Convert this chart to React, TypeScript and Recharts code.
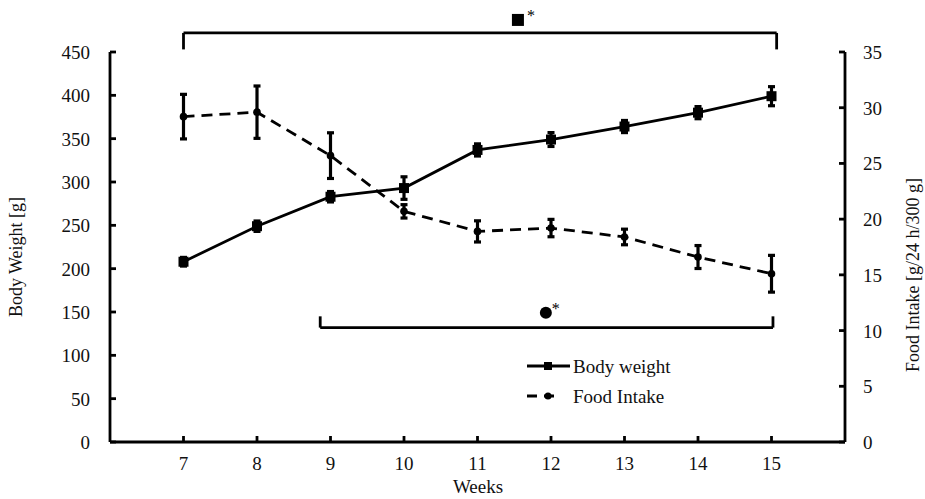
import React from 'react';
import {
  ComposedChart,
  Line,
  XAxis,
  YAxis,
  ErrorBar,
  ReferenceLine,
  ReferenceDot,
  Legend,
} from 'recharts';

const weeks = [7, 8, 9, 10, 11, 12, 13, 14, 15];
const bodyWeight = [208, 249, 283, 293, 337, 349, 364, 380, 399];
const bodyWeightErr = [5, 6, 6, 13, 7, 8, 7, 7, 11];
const foodIntake = [29.2, 29.6, 25.7, 20.7, 18.9, 19.2, 18.4, 16.6, 15.1];
const foodIntakeErr = [2.0, 2.35, 2.05, 0.6, 0.95, 0.78, 0.7, 1.03, 1.65];

const weekTicks = [7, 8, 9, 10, 11, 12, 13, 14, 15];
const weightTicks = [0, 50, 100, 150, 200, 250, 300, 350, 400, 450];
const intakeTicks = [0, 5, 10, 15, 20, 25, 30, 35];

// significance brackets (x in weeks, y in body-weight units)
const topBracket = { x1: 7, x2: 15.07, y: 472, yTick: 453 };
const bottomBracket = { x1: 8.86, x2: 15.02, y: 132, yTick: 145 };
const squareMark = { x: 11.55, y: 487 };
const circleMark = { x: 11.93, y: 149 };

const data = weeks.map((w, i) => ({
  week: w,
  bw: bodyWeight[i],
  bwErr: bodyWeightErr[i],
  fi: foodIntake[i],
  fiErr: foodIntakeErr[i],
}));

const FONT = '"Liberation Serif", "Times New Roman", serif';
const TICK_SIZE = 19;
const SW = 2.8;

const LeftTick = (props: any) => {
  const { x, y, payload } = props;
  return (
    <g>
      <line x1={x} y1={y} x2={x + 6} y2={y} stroke="#000" strokeWidth={SW} />
      <text x={x - 20} y={y + 7} textAnchor="end" fontFamily={FONT} fontSize={TICK_SIZE} fill="#111">
        {payload.value}
      </text>
    </g>
  );
};

const RightTick = (props: any) => {
  const { x, y, payload } = props;
  return (
    <g>
      <line x1={x} y1={y} x2={x - 6} y2={y} stroke="#000" strokeWidth={SW} />
      <text x={x + 18} y={y + 7} textAnchor="start" fontFamily={FONT} fontSize={TICK_SIZE} fill="#111">
        {payload.value}
      </text>
    </g>
  );
};

const BottomTick = (props: any) => {
  const { x, y, payload } = props;
  return (
    <g>
      <line x1={x} y1={y} x2={x} y2={y - 6} stroke="#000" strokeWidth={SW} />
      <text x={x} y={y + 28} textAnchor="middle" fontFamily={FONT} fontSize={TICK_SIZE} fill="#111">
        {payload.value}
      </text>
    </g>
  );
};

const SquareDot = (props: any) => {
  const { cx, cy, index } = props;
  if (cx == null || cy == null) return <g key={`sq-${index}`} />;
  return <rect key={`sq-${index}`} x={cx - 5} y={cy - 5} width={10} height={10} fill="#000" />;
};

const CircleDot = (props: any) => {
  const { cx, cy, index } = props;
  if (cx == null || cy == null) return <g key={`ci-${index}`} />;
  return <circle key={`ci-${index}`} cx={cx} cy={cy} r={3.8} fill="#000" />;
};

const SquareMarker = (props: any) => {
  const { cx, cy } = props;
  return (
    <g>
      <rect x={cx - 6} y={cy - 6} width={12} height={12} fill="#000" />
      <text x={cx + 9} y={cy + 1} fontFamily={FONT} fontSize={16} fill="#000">*</text>
    </g>
  );
};

const CircleMarker = (props: any) => {
  const { cx, cy } = props;
  return (
    <g>
      <circle cx={cx} cy={cy} r={6} fill="#000" />
      <text x={cx + 6} y={cy + 1} fontFamily={FONT} fontSize={16} fill="#000">*</text>
    </g>
  );
};

const LegendContent = () => (
  <svg width={180} height={60} style={{ display: 'block' }}>
    <line x1={0} y1={11} x2={43} y2={11} stroke="#000" strokeWidth={SW} />
    <rect x={17} y={7} width={8} height={8} fill="#000" />
    <text x={46} y={18} fontFamily={FONT} fontSize={19} fill="#111">Body weight</text>
    <line x1={0} y1={41} x2={31} y2={41} stroke="#000" strokeWidth={SW} strokeDasharray="10 7" />
    <circle cx={21} cy={41} r={3.5} fill="#000" />
    <text x={46} y={48} fontFamily={FONT} fontSize={19} fill="#111">Food Intake</text>
  </svg>
);

export default function App() {
  return (
    <div style={{ position: 'absolute', left: 0, top: 0, width: 925, height: 499, background: '#fff' }}>
      <ComposedChart
        width={925}
        height={499}
        data={data}
        margin={{ top: 52, right: 0, bottom: 17, left: 0 }}
        style={{ fontFamily: FONT }}
      >
        <XAxis
          dataKey="week"
          type="number"
          domain={[6, 16]}
          ticks={weekTicks}
          height={40}
          axisLine={{ stroke: '#000', strokeWidth: SW }}
          tickLine={false}
          tickSize={0}
          tickMargin={0}
          tick={<BottomTick />}
          interval={0}
          label={{
            content: () => (
              <text x={478} y={493} textAnchor="middle" fontFamily={FONT} fontSize={19} fill="#111">
                Weeks
              </text>
            ),
          }}
        />
        <YAxis
          yAxisId="left"
          orientation="left"
          domain={[0, 450]}
          ticks={weightTicks}
          width={110}
          axisLine={{ stroke: '#000', strokeWidth: SW }}
          tickLine={false}
          tickSize={0}
          tickMargin={0}
          tick={<LeftTick />}
          interval={0}
          label={{
            content: () => (
              <text
                x={22}
                y={257}
                transform="rotate(-90 22 257)"
                textAnchor="middle"
                fontFamily={FONT}
                fontSize={18}
                fill="#111"
              >
                Body Weight [g]
              </text>
            ),
          }}
        />
        <YAxis
          yAxisId="right"
          orientation="right"
          domain={[0, 35]}
          ticks={intakeTicks}
          width={80}
          axisLine={{ stroke: '#000', strokeWidth: SW }}
          tickLine={false}
          tickSize={0}
          tickMargin={0}
          tick={<RightTick />}
          interval={0}
          label={{
            content: () => (
              <text
                x={919}
                y={275}
                transform="rotate(-90 919 275)"
                textAnchor="middle"
                fontFamily={FONT}
                fontSize={18}
                fill="#111"
              >
                Food Intake  [g/24 h/300 g]
              </text>
            ),
          }}
        />

        <Line
          yAxisId="right"
          dataKey="fi"
          name="Food Intake"
          stroke="#000"
          strokeWidth={SW}
          strokeDasharray="11 7"
          dot={CircleDot}
          activeDot={false}
          isAnimationActive={false}
          legendType="circle"
        >
          <ErrorBar dataKey="fiErr" direction="y" width={3.5} strokeWidth={3.2} stroke="#000" isAnimationActive={false} />
        </Line>
        <Line
          yAxisId="left"
          dataKey="bw"
          name="Body weight"
          stroke="#000"
          strokeWidth={SW}
          dot={SquareDot}
          activeDot={false}
          isAnimationActive={false}
          legendType="square"
        >
          <ErrorBar dataKey="bwErr" direction="y" width={3.5} strokeWidth={3.2} stroke="#000" isAnimationActive={false} />
        </Line>

        <ReferenceLine
          yAxisId="left"
          ifOverflow="visible"
          segment={[{ x: topBracket.x1, y: topBracket.y }, { x: topBracket.x2, y: topBracket.y }]}
          stroke="#000"
          strokeWidth={SW}
        />
        <ReferenceLine
          yAxisId="left"
          ifOverflow="visible"
          segment={[{ x: topBracket.x1, y: topBracket.y }, { x: topBracket.x1, y: topBracket.yTick }]}
          stroke="#000"
          strokeWidth={SW}
        />
        <ReferenceLine
          yAxisId="left"
          ifOverflow="visible"
          segment={[{ x: topBracket.x2, y: topBracket.y }, { x: topBracket.x2, y: topBracket.yTick }]}
          stroke="#000"
          strokeWidth={SW}
        />
        <ReferenceDot
          yAxisId="left"
          x={squareMark.x}
          y={squareMark.y}
          ifOverflow="visible"
          shape={SquareMarker}
        />

        <ReferenceLine
          yAxisId="left"
          ifOverflow="visible"
          segment={[{ x: bottomBracket.x1, y: bottomBracket.y }, { x: bottomBracket.x2, y: bottomBracket.y }]}
          stroke="#000"
          strokeWidth={SW}
        />
        <ReferenceLine
          yAxisId="left"
          ifOverflow="visible"
          segment={[{ x: bottomBracket.x1, y: bottomBracket.y }, { x: bottomBracket.x1, y: bottomBracket.yTick }]}
          stroke="#000"
          strokeWidth={SW}
        />
        <ReferenceLine
          yAxisId="left"
          ifOverflow="visible"
          segment={[{ x: bottomBracket.x2, y: bottomBracket.y }, { x: bottomBracket.x2, y: bottomBracket.yTick }]}
          stroke="#000"
          strokeWidth={SW}
        />
        <ReferenceDot
          yAxisId="left"
          x={circleMark.x}
          y={circleMark.y}
          ifOverflow="visible"
          shape={CircleMarker}
        />

        <Legend
          layout="vertical"
          verticalAlign="middle"
          align="center"
          content={<LegendContent />}
          wrapperStyle={{ left: 527, top: 355, width: 180, height: 60 }}
        />
      </ComposedChart>
    </div>
  );
}
